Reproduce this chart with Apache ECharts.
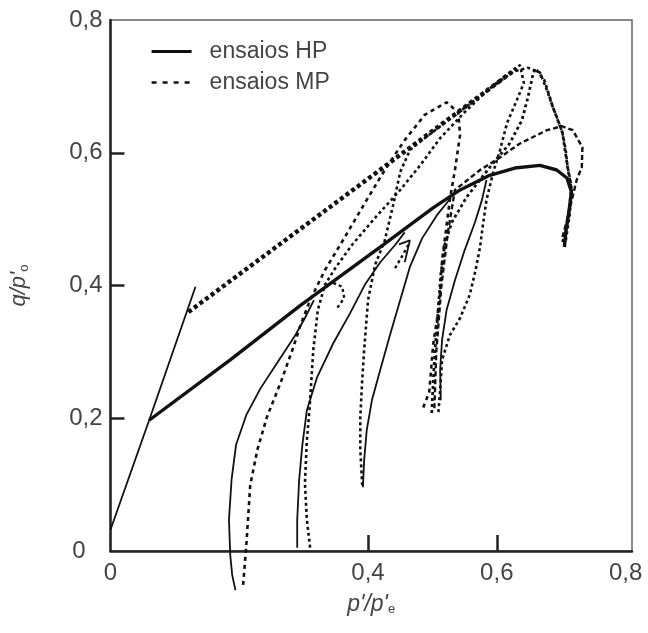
<!DOCTYPE html>
<html>
<head>
<meta charset="utf-8">
<script src="https://cdn.jsdelivr.net/npm/echarts@6/dist/echarts.min.js"></script>
<style>
html,body{margin:0;padding:0;background:#fff;}
#chart{width:648px;height:633px;}
</style>
</head>
<body>
<div id="chart"></div>
<script>
// ---- data (x = p'/p'e, y = q/p'o) ----
const xTickLabels = [0, 0.4, 0.6, 0.8];
const xTicks = [0.4, 0.6];
const yTickLabels = [0, 0.2, 0.4, 0.6, 0.8];
const yTicks = [0.2, 0.4, 0.6];

const hpEnvelope = [[0.060,0.197],[0.186,0.288],[0.295,0.370],[0.423,0.461],[0.501,0.517],[0.543,0.544],[0.589,0.566],[0.628,0.577],[0.667,0.581],[0.693,0.574],[0.709,0.562],[0.716,0.541],[0.712,0.511],[0.707,0.480],[0.705,0.458]];
const hpSteep = [[0.000,0.032],[0.060,0.197],[0.132,0.398]];
const hpPath1 = [[0.194,-0.059],[0.189,-0.036],[0.186,-0.006],[0.184,0.047],[0.188,0.107],[0.195,0.160],[0.211,0.205],[0.233,0.245],[0.260,0.285],[0.287,0.325],[0.302,0.351],[0.316,0.378]];
const hpPath2 = [[0.290,0.005],[0.290,0.047],[0.293,0.107],[0.298,0.160],[0.305,0.212],[0.321,0.262],[0.346,0.313],[0.372,0.358],[0.395,0.401],[0.419,0.435],[0.442,0.461],[0.457,0.480]];
const hpHook = [[0.448,0.462],[0.465,0.468],[0.457,0.435]];
const hpPath3 = [[0.392,0.096],[0.394,0.137],[0.398,0.182],[0.406,0.227],[0.419,0.273],[0.434,0.325],[0.450,0.378],[0.465,0.428],[0.484,0.471],[0.507,0.506],[0.527,0.530]];
const hpPath4 = [[0.513,0.227],[0.512,0.273],[0.515,0.318],[0.522,0.363],[0.535,0.408],[0.550,0.453],[0.566,0.495],[0.577,0.529],[0.584,0.559]];

const mpEnvelope = [[0.121,0.360],[0.631,0.727]];
const mpPath1 = [[0.206,-0.051],[0.211,0.009],[0.217,0.099],[0.228,0.152],[0.243,0.202],[0.264,0.253],[0.284,0.307],[0.295,0.340],[0.310,0.378],[0.333,0.423],[0.364,0.473],[0.398,0.529],[0.426,0.574],[0.457,0.619],[0.488,0.657],[0.522,0.676],[0.540,0.661],[0.543,0.627],[0.535,0.574],[0.527,0.529],[0.521,0.483],[0.515,0.438],[0.512,0.389],[0.507,0.348],[0.501,0.310],[0.498,0.273],[0.495,0.239],[0.484,0.212]];
const mpPath2 = [[0.310,0.005],[0.305,0.047],[0.302,0.102],[0.305,0.167],[0.309,0.212],[0.315,0.303],[0.322,0.363],[0.333,0.401],[0.349,0.426],[0.375,0.461],[0.411,0.502],[0.450,0.544],[0.481,0.581],[0.512,0.622],[0.550,0.661],[0.589,0.697],[0.620,0.721],[0.636,0.732],[0.642,0.705],[0.631,0.679],[0.616,0.645],[0.605,0.604],[0.594,0.569],[0.584,0.529],[0.578,0.488],[0.574,0.458],[0.567,0.423],[0.558,0.386],[0.543,0.351],[0.527,0.325],[0.515,0.288],[0.512,0.242],[0.509,0.205]];
const mpPath3 = [[0.391,0.099],[0.388,0.152],[0.388,0.202],[0.391,0.258],[0.394,0.303],[0.400,0.378],[0.411,0.431],[0.426,0.468],[0.439,0.521],[0.450,0.571],[0.465,0.604],[0.488,0.622],[0.560,0.675],[0.625,0.722],[0.648,0.728],[0.667,0.721],[0.678,0.694],[0.687,0.669],[0.695,0.649],[0.702,0.630],[0.707,0.604],[0.710,0.578],[0.716,0.551],[0.713,0.521],[0.709,0.491],[0.702,0.465]];
const mpPath4 = [[0.499,0.208],[0.501,0.250],[0.504,0.303],[0.509,0.363],[0.513,0.416],[0.519,0.461],[0.530,0.495],[0.553,0.533],[0.589,0.578],[0.620,0.614],[0.639,0.649],[0.648,0.682],[0.656,0.717],[0.660,0.727],[0.674,0.709],[0.687,0.669],[0.702,0.630],[0.710,0.578],[0.716,0.544],[0.713,0.506],[0.707,0.468]];
const mpPath5 = [[0.503,0.215],[0.506,0.300],[0.514,0.400],[0.524,0.480],[0.535,0.544],[0.574,0.574],[0.605,0.593],[0.636,0.614],[0.678,0.634],[0.701,0.640],[0.718,0.634],[0.733,0.608],[0.732,0.578],[0.724,0.559],[0.709,0.498],[0.702,0.473]];
const mpHook1 = [[0.346,0.404],[0.360,0.398],[0.363,0.381],[0.352,0.366]];
const mpHook2 = [[0.442,0.426],[0.454,0.446],[0.465,0.465]];

// ---- chart ----
const INK = '#111';
const TXT = '#444';
const FONT = '"Liberation Sans", Arial, sans-serif';

function solid(data, width) {
  return {type:'line', name:'ensaios HP', data:data, symbol:'none', clip:false, silent:true,
    lineStyle:{color:INK, width:width, type:'solid'}, itemStyle:{color:INK}, z:3};
}
function dotted(data, width, dash) {
  return {type:'line', name:'ensaios MP', data:data, symbol:'none', clip:false, silent:true,
    lineStyle:{color:INK, width:width, type:dash || [3,3], cap:'butt'}, itemStyle:{color:INK}, z:2};
}

const series = [
  solid(hpEnvelope, 3.4),
  solid(hpSteep, 1.8),
  solid(hpPath1, 1.8),
  solid(hpPath2, 1.8),
  solid(hpHook, 1.8),
  solid(hpPath3, 1.8),
  solid(hpPath4, 1.8),
  dotted(mpPath1, 2.6, [4,4]),
  dotted(mpEnvelope, 4.4, [4,3]),
  dotted(mpPath2, 2.6),
  dotted(mpPath3, 2.6),
  dotted(mpPath4, 2.8),
  dotted(mpPath5, 2.4, [5,3]),
  dotted(mpHook1, 2.4),
  dotted(mpHook2, 2.4)
];

const chart = echarts.init(document.getElementById('chart'), null, {renderer:'canvas'});
chart.setOption({
  animation:false,
  backgroundColor:'#fff',
  grid:{left:110, top:20, right:16, bottom:82, show:true, borderColor:'#666', borderWidth:1.5, backgroundColor:'transparent'},
  legend:{
    data:[
      {name:'ensaios HP', lineStyle:{width:3.2, type:'solid'}},
      {name:'ensaios MP', lineStyle:{width:2.6, type:[5,6]}}
    ],
    orient:'vertical', left:145, top:35,
    itemWidth:40, itemHeight:14, itemGap:8, selectedMode:false,
    itemStyle:{opacity:0},
    lineStyle:{color:INK},
    textStyle:{fontSize:23, color:TXT, fontFamily:FONT, padding:[0,0,0,13]}
  },
  xAxis:{
    type:'value', min:0, max:0.81,
    name:"{a|p'/p'}{b|e}", nameLocation:'middle', nameGap:42,
    nameTextStyle:{rich:{a:{fontSize:23, fontStyle:'italic', color:TXT, fontFamily:FONT}, b:{fontSize:13, color:TXT, fontFamily:FONT, padding:[10,0,0,0]}}},
    splitLine:{show:false},
    axisLine:{onZero:false, lineStyle:{color:'#222', width:2.5}},
    axisTick:{show:true, inside:true, length:16, customValues:xTicks, lineStyle:{color:'#222', width:2.5}},
    axisLabel:{customValues:xTickLabels, fontSize:24, color:TXT, fontFamily:FONT, margin:10,
      formatter:v => v === 0 ? '0' : String(Number(v).toFixed(1)).replace('.', ',')}
  },
  yAxis:{
    type:'value', min:0, max:0.8,
    name:"{a|q/p'}{b|o}", nameLocation:'middle', nameGap:80,
    nameTextStyle:{rich:{a:{fontSize:22, fontStyle:'italic', color:TXT, fontFamily:FONT}, b:{fontSize:13, color:TXT, fontFamily:FONT, padding:[10,0,0,0]}}},
    splitLine:{show:false},
    axisLine:{onZero:false, lineStyle:{color:'#222', width:2.5}},
    axisTick:{show:true, inside:true, length:14, customValues:yTicks, lineStyle:{color:'#222', width:2.5}},
    axisLabel:{customValues:yTickLabels, fontSize:24, color:TXT, fontFamily:FONT, margin:8,
      formatter:v => v === 0 ? '{z|0}' : String(Number(v).toFixed(1)).replace('.', ','),
      rich:{z:{fontSize:24, color:TXT, fontFamily:FONT, padding:[0,17,0,0]}}}
  },
  series:series
});
</script>
</body>
</html>
